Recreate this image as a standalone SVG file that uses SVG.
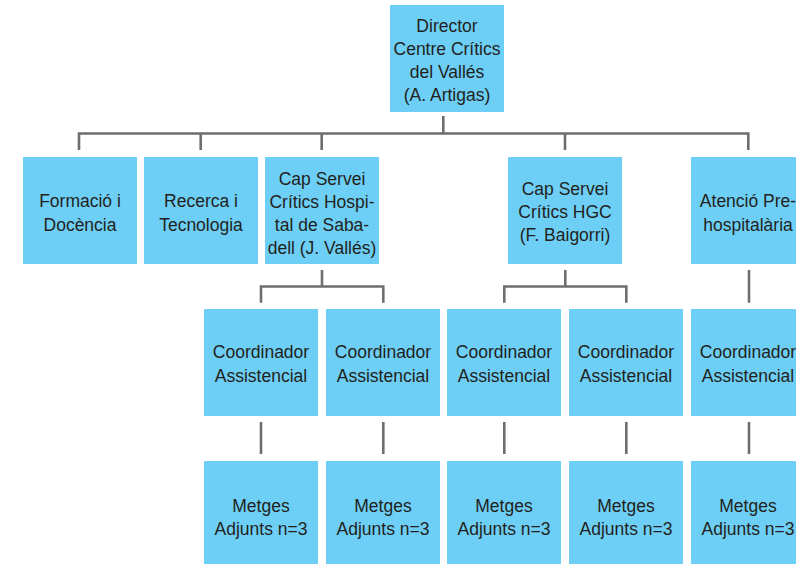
<svg xmlns="http://www.w3.org/2000/svg" width="796" height="564" viewBox="0 0 796 564">
<style>
.box{fill:#6dcff6}
.t{font-family:"Liberation Sans",Arial,sans-serif;font-size:17.5px;fill:#231f20;text-anchor:middle}
.c{stroke:#6d6e71;stroke-width:2.6;fill:none}
</style>
<rect width="796" height="564" fill="#ffffff"/>
<g id="connectors">
<path class="c" d="M443.3 116V133.5M79 150V133.5H748.3V150M200.7 133.5V150M321.7 133.5V150M565 133.5V150"/>
<path class="c" d="M322 270V286.5M261 302.7V286.5H383.3V302.7"/>
<path class="c" d="M565.3 270V286.5M504.3 302.7V286.5H626.3V302.7"/>
<path class="c" d="M749 270V302.7"/>
<path class="c" d="M261 422V454M383.3 422V454M504.3 422V454M626.3 422V454M749 422V454"/>
</g>
<g id="director"><rect class="box" x="390" y="5" width="114" height="107"/>
<text class="t" x="447" y="32">Director</text><text class="t" x="447" y="55">Centre Crítics</text><text class="t" x="447" y="78">del Vallés</text><text class="t" x="447" y="101">(A. Artigas)</text></g>
<g id="formacio"><rect class="box" x="23" y="157" width="114" height="107"/>
<text class="t" x="80" y="207">Formació i</text><text class="t" x="80" y="231">Docència</text></g>
<g id="recerca"><rect class="box" x="144" y="157" width="114" height="107"/>
<text class="t" x="201" y="207">Recerca i</text><text class="t" x="201" y="231">Tecnologia</text></g>
<g id="cap-sabadell"><rect class="box" x="265" y="157" width="114" height="107"/>
<text class="t" x="322" y="185">Cap Servei</text><text class="t" x="322" y="208">Crítics Hospi-</text><text class="t" x="322" y="231">tal de Saba-</text><text class="t" x="322" y="254">dell (J. Vallés)</text></g>
<g id="cap-hgc"><rect class="box" x="508" y="157" width="114" height="107"/>
<text class="t" x="565" y="195">Cap Servei</text><text class="t" x="565" y="218">Crítics HGC</text><text class="t" x="565" y="241">(F. Baigorri)</text></g>
<g id="atencio"><rect class="box" x="691" y="157" width="114" height="107"/>
<text class="t" x="748" y="207">Atenció Pre-</text><text class="t" x="748" y="231">hospitalària</text></g>
<g id="coord1"><rect class="box" x="204" y="309" width="114" height="107"/><text class="t" x="261" y="358">Coordinador</text><text class="t" x="261" y="381.5">Assistencial</text></g>
<g id="coord2"><rect class="box" x="326" y="309" width="114" height="107"/><text class="t" x="383" y="358">Coordinador</text><text class="t" x="383" y="381.5">Assistencial</text></g>
<g id="coord3"><rect class="box" x="447" y="309" width="114" height="107"/><text class="t" x="504" y="358">Coordinador</text><text class="t" x="504" y="381.5">Assistencial</text></g>
<g id="coord4"><rect class="box" x="569" y="309" width="114" height="107"/><text class="t" x="626" y="358">Coordinador</text><text class="t" x="626" y="381.5">Assistencial</text></g>
<g id="coord5"><rect class="box" x="691" y="309" width="114" height="107"/><text class="t" x="748" y="358">Coordinador</text><text class="t" x="748" y="381.5">Assistencial</text></g>
<g id="metges1"><rect class="box" x="204" y="461" width="114" height="110"/><text class="t" x="261" y="512">Metges</text><text class="t" x="261" y="535">Adjunts n=3</text></g>
<g id="metges2"><rect class="box" x="326" y="461" width="114" height="110"/><text class="t" x="383" y="512">Metges</text><text class="t" x="383" y="535">Adjunts n=3</text></g>
<g id="metges3"><rect class="box" x="447" y="461" width="114" height="110"/><text class="t" x="504" y="512">Metges</text><text class="t" x="504" y="535">Adjunts n=3</text></g>
<g id="metges4"><rect class="box" x="569" y="461" width="114" height="110"/><text class="t" x="626" y="512">Metges</text><text class="t" x="626" y="535">Adjunts n=3</text></g>
<g id="metges5"><rect class="box" x="691" y="461" width="114" height="110"/><text class="t" x="748" y="512">Metges</text><text class="t" x="748" y="535">Adjunts n=3</text></g>
</svg>
